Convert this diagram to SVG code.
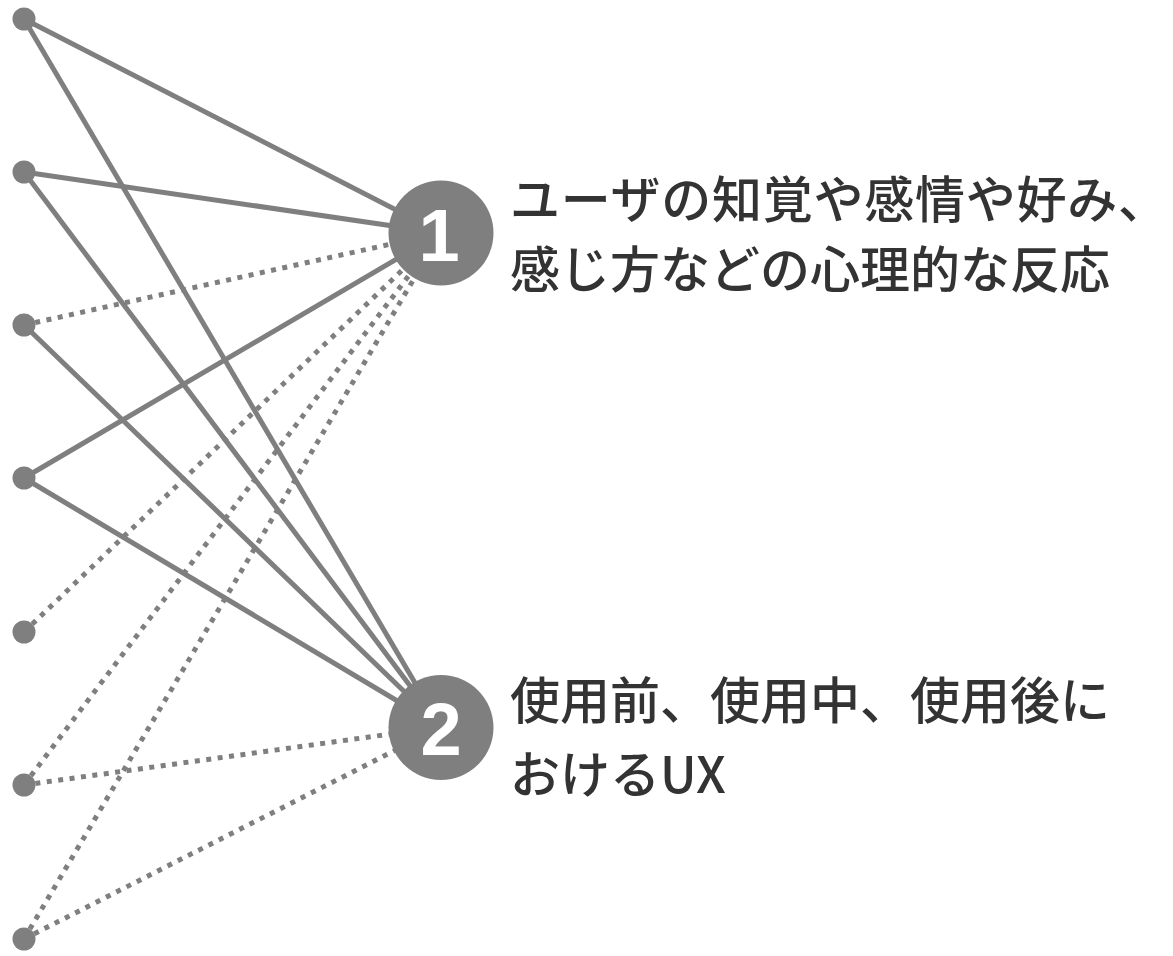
<svg xmlns="http://www.w3.org/2000/svg" width="1173" height="956" viewBox="0 0 1173 956">
<style>
.s{stroke:#7f7f7f;stroke-width:5;fill:none}
.d{stroke:#7f7f7f;stroke-width:5;fill:none;stroke-dasharray:5 6.5}
.dot{fill:#7f7f7f}
.big{fill:#7f7f7f}
.num{font-family:"Liberation Sans",Arial,sans-serif;font-weight:bold;font-size:74px;fill:#fff;text-anchor:middle}
.lbl{font-family:"Noto Sans CJK JP","Noto Sans",sans-serif;font-size:50px;font-weight:500;fill:#333}
</style>
<rect width="1173" height="956" fill="#fff"/>
<g id="connectors">
<line class="s" x1="24" y1="19" x2="441" y2="233"/>
<line class="s" x1="24" y1="19" x2="441" y2="727"/>
<line class="s" x1="24" y1="172" x2="441" y2="233"/>
<line class="s" x1="24" y1="172" x2="441" y2="727"/>
<line class="d" x1="24" y1="325" x2="441" y2="233"/>
<line class="s" x1="24" y1="325" x2="441" y2="727"/>
<line class="s" x1="24" y1="478" x2="441" y2="233"/>
<line class="s" x1="24" y1="478" x2="441" y2="727"/>
<line class="d" x1="24" y1="632" x2="441" y2="233"/>
<line class="d" x1="24" y1="785" x2="441" y2="233"/>
<line class="d" x1="24" y1="785" x2="441" y2="727"/>
<line class="d" x1="24" y1="939" x2="441" y2="233"/>
<line class="d" x1="24" y1="939" x2="441" y2="727"/>
</g>
<g id="dot1"><circle class="dot" cx="24" cy="19" r="11.5"/></g>
<g id="dot2"><circle class="dot" cx="24" cy="172" r="11.5"/></g>
<g id="dot3"><circle class="dot" cx="24" cy="325" r="11.5"/></g>
<g id="dot4"><circle class="dot" cx="24" cy="478" r="11.5"/></g>
<g id="dot5"><circle class="dot" cx="24" cy="632" r="11.5"/></g>
<g id="dot6"><circle class="dot" cx="24" cy="785" r="11.5"/></g>
<g id="dot7"><circle class="dot" cx="24" cy="939" r="11.5"/></g>
<g id="node1">
<circle class="big" cx="441" cy="233" r="52.5"/>
<text class="num" x="439" y="261">1</text>
<text class="lbl" x="510" y="218" textLength="658" lengthAdjust="spacing">ユーザの知覚や感情や好み、</text>
<text class="lbl" x="510" y="288">感じ方などの心理的な反応</text>
</g>
<g id="node2">
<circle class="big" cx="441" cy="727.5" r="52.5"/>
<text class="num" x="441" y="755">2</text>
<text class="lbl" x="510" y="719">使用前、使用中、使用後に</text>
<text class="lbl" x="510" y="793">おけるUX</text>
</g>
</svg>
